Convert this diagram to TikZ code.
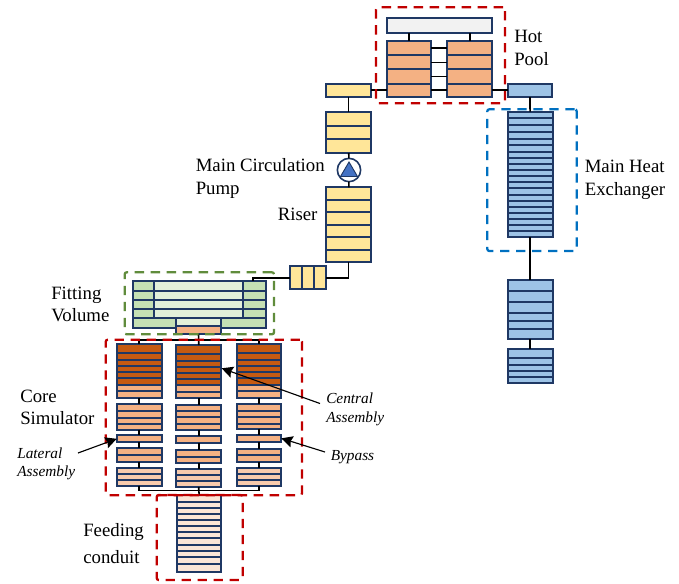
\documentclass[tikz,border=0pt]{standalone}
\usepackage{fontspec}
\setmainfont{Liberation Serif}
\usetikzlibrary{arrows.meta}
\definecolor{navy}{HTML}{1F3864}
\definecolor{hotor}{HTML}{F4B183}
\definecolor{darkor}{HTML}{C55A11}
\definecolor{midor}{HTML}{F8CBAD}
\definecolor{palor}{HTML}{FBE5D6}
\definecolor{yel}{HTML}{FFE699}
\definecolor{blu}{HTML}{9DC3E6}
\definecolor{grn}{HTML}{C5E0B4}
\definecolor{lgrn}{HTML}{E2F0D9}
\definecolor{gry}{HTML}{F2F2F2}
\definecolor{pumpb}{HTML}{4472C4}
\definecolor{redd}{HTML}{C00000}
\definecolor{blued}{HTML}{0070C0}
\definecolor{greend}{HTML}{608C3C}
\tikzset{
  stackbox/.style={draw=navy,line width=1.4pt,inner sep=0pt,outer sep=0pt,rectangle},
  divline/.style={draw=navy,line width=1.4pt},
  conn/.style={draw=black,line width=1.2pt},
  ptr/.style={draw=black,line width=0.85pt,-{Stealth[length=8.5pt,width=8.5pt,inset=1.2pt]}},
  dashbox/.style={rectangle,inner sep=0pt,outer sep=0pt,line width=1.7pt,rounded corners=1.5pt,dash pattern=on 7pt off 5pt},
  lab/.style={anchor=base west,inner sep=0pt,font=\fontsize{14.1}{16}\selectfont},
  ilab/.style={anchor=base west,inner sep=0pt,font=\fontsize{11.5}{13}\selectfont\itshape},
}
% name, x0, y0, x1, y1, fill
\newcommand{\stk}[6]{\node[stackbox,fill=#6,minimum width={(#4-#2)*0.75pt},minimum height={(#5-#3)*0.75pt}] (#1) at ({(#2+#4)/2},{(#3+#5)/2}) {};}
\newcommand{\dv}[2]{\foreach \yy in {#2} {\draw[divline] (#1.west |- 0,\yy) -- (#1.east |- 0,\yy);}}
\newcommand{\hot}[3]{\fill[darkor] (#1.north west) rectangle (#1.east |- 0,#2); \dv{#1}{#3} \draw[divline] (#1.north west) rectangle (#1.south east);}
\begin{document}
\begin{tikzpicture}[x=0.75pt,y=-0.75pt]
\useasboundingbox (0,0) rectangle (679,583);
% hot pool
\stk{top}{387}{18}{492}{33.3}{gry}
\stk{hl}{387}{40.7}{431.3}{97.3}{hotor} \dv{hl}{55,69,83.7}
\stk{hr}{447.3}{40.7}{492}{97.3}{hotor} \dv{hr}{55,69,83.7}
\stk{yt}{326}{83.7}{371}{97}{yel}
\stk{bt}{507.7}{83.7}{552.3}{97}{blu}
\draw[conn] (top.south -| 409,0) -- (hl.north -| 409,0);
\draw[conn] (top.south -| 469.7,0) -- (hr.north -| 469.7,0);
\foreach \yy in {48,62.3,76.3,90} {\draw[conn] (hl.east |- 0,\yy) -- (hr.west |- 0,\yy);}
\draw[conn] (yt.east |- 0,90) -- (hl.west |- 0,90);
\draw[conn] (hr.east |- 0,90) -- (bt.west |- 0,90);
% loop
\stk{ys}{326}{112}{371}{153}{yel} \dv{ys}{125.7,139.3}
\node[circle,draw=navy,fill=white,line width=1.2pt,inner sep=0pt,outer sep=0pt,minimum size=17.5pt] (pump) at (349,170) {};
\draw[navy,fill=pumpb,line width=0.7pt] (349,162) -- (357.5,176.5) -- (340.5,176.5) -- cycle;
\stk{riser}{326}{187.3}{371}{262}{yel} \dv{riser}{200,212.3,224.7,237,249.7}
\draw[conn] (yt) -- (ys);
\draw[conn] (ys) -- (pump);
\draw[conn] (pump) -- (riser);
\node[stackbox,fill=yel,minimum width=27.2pt,minimum height=17pt] (hb) at (308.2,277.7) {};
\draw[divline] (302.3,266.3) -- (302.3,289);
\draw[divline] (314.3,266.3) -- (314.3,289);
\draw[conn] (riser.south) |- (hb.east);
% blue
\stk{bm}{507.7}{111.7}{552.7}{237}{blu}
\dv{bm}{118.3,125.3,131.7,138.7,145,152,158,164,170.3,176.3,182.3,188.3,194.7,200.7,206.7,213,219.3,225,231}
\stk{bn}{507.7}{280}{552.7}{338.7}{blu} \dv{bn}{291,302,313,320.7,329.3}
\stk{bo}{507.7}{349.3}{552.7}{382.7}{blu} \dv{bo}{358.3,364.7,371,376.7}
\draw[conn] (bt) -- (bm);
\draw[conn] (bm) -- (bn);
\draw[conn] (bn) -- (bo);
% fitting volume
\stk{fv}{133}{281.3}{266}{327.7}{grn} \dv{fv}{290.7,300,309,318.3}
\stk{fi}{154}{281.3}{242.7}{318.3}{lgrn} \dv{fi}{290.7,300,309}
\stk{fm}{176.3}{318.3}{220.7}{326.3}{lgrn}
\stk{fo}{176.3}{326.3}{220.7}{334}{hotor}
\coordinate (fvin) at (252.7,281.3);
\coordinate (fvel) at (252.7,277.7);
\draw[conn] (hb.west) -- (fvel) -- (fvin);
% core
\stk{a1}{116.7}{344.3}{161.7}{397.7}{hotor} \hot{a1}{385}{353.3,360,366,372,378.3,385,391.3}
\stk{b1}{176.3}{345}{221.3}{398.3}{hotor} \hot{b1}{385.3}{354,361,367,372.7,378.7,385.3,392}
\stk{c1}{236.7}{344.3}{281.3}{397.7}{hotor} \hot{c1}{385}{353.3,360,366,372,378.3,385,391.3}
\stk{a2}{116.7}{404.3}{161.7}{429.7}{hotor} \dv{a2}{411.3,418,424.3}
\stk{b2}{176.3}{404.7}{221.3}{429.7}{hotor} \dv{b2}{411,417.3,423.7}
\stk{c2}{236.7}{404}{281.3}{428.7}{hotor} \dv{c2}{411,417.3,424}
\stk{a3}{116.7}{435.3}{161.7}{442.3}{hotor}
\stk{b3}{176.3}{435.7}{221.3}{443}{hotor}
\stk{c3}{236.7}{434.7}{281.3}{442}{hotor}
\stk{a4}{116.7}{448.3}{161.7}{461.7}{hotor} \dv{a4}{455}
\stk{b4}{176.3}{450.3}{221.3}{463.3}{hotor} \dv{b4}{456.7}
\stk{c4}{236.7}{449}{281.3}{462}{hotor} \dv{c4}{455.3}
\stk{a5}{116.7}{467.7}{161.7}{485.7}{midor} \dv{a5}{473.7,479.7}
\stk{b5}{176.3}{469}{221.3}{487}{midor} \dv{b5}{475,481}
\stk{c5}{236.7}{467.7}{281.3}{485.7}{midor} \dv{c5}{473.7,479.7}
\foreach \pp/\qq in {a1/a2,a2/a3,a3/a4,a4/a5,b1/b2,b2/b3,b3/b4,b4/b5,c1/c2,c2/c3,c3/c4,c4/c5} {\draw[conn] (\pp) -- (\qq);}
\coordinate (tbus) at (198.7,339.7);
\coordinate (bbus) at (198.7,490.3);
\draw[conn] (fo.south) -- (b1.north);
\draw[conn] (a1.north) |- (tbus) -| (c1.north);
\draw[conn] (a5.south) |- (bbus) -| (c5.south);
\draw[conn] (b5.south) -- (bbus);
% feeding
\stk{fd}{177.3}{495}{221.3}{571.7}{palor} \dv{fd}{501.7,507.7,514,519.7,525.7,532,538.3,544.7,551,557.3,564.3}
\draw[conn] (bbus) -- (fd.north);
% dashed boxes
\node[dashbox,draw=greend,minimum width=112pt,minimum height=46.5pt] (gbox) at (199.35,303.3) {};
\node[dashbox,draw=redd,minimum width=147.2pt,minimum height=116.7pt] (rcore) at (203.85,417.5) {};
\node[dashbox,draw=redd,minimum width=64.5pt,minimum height=63.75pt] (rfeed) at (199.7,537.5) {};
\node[dashbox,draw=redd,minimum width=96.75pt,minimum height=72pt] (rhot) at (440.5,55.3) {};
\node[dashbox,draw=blued,minimum width=67pt,minimum height=106.3pt] (bbox) at (532,180.15) {};
% labels
\node[lab] (t1) at (514,42.5) {Hot};
\node[lab] (t2) at (514,65) {Pool};
\node[lab] (t3) at (195.5,171) {Main Circulation};
\node[lab] (t4) at (195.5,194) {Pump};
\node[lab] (t5) at (277.5,220.5) {Riser};
\node[lab] (t6) at (584.5,172) {Main Heat};
\node[lab] (t7) at (584.5,195) {Exchanger};
\node[lab] (t8) at (51,299.5) {Fitting};
\node[lab] (t9) at (51,321.5) {Volume};
\node[lab] (t10) at (20,402.5) {Core};
\node[lab] (t11) at (20,424) {Simulator};
\node[lab] (t12) at (83,536) {Feeding};
\node[lab] (t13) at (83,563) {conduit};
\node[ilab] (t14) at (326,403) {Central};
\node[ilab] (t15) at (326,422) {Assembly};
\node[ilab] (t16) at (330.5,460) {Bypass};
\node[ilab] (t17) at (17,458) {Lateral};
\node[ilab] (t18) at (17,476) {Assembly};
% pointers
\coordinate (ptc) at (320,403.5);
\coordinate (ctip) at (221.7,368.3);
\coordinate (ptb) at (325,452);
\coordinate (ptl) at (78,453);
\draw[ptr] (ptc) -- (ctip);
\draw[ptr] (ptb) -- (c3.east);
\draw[ptr] (ptl) -- (a3.west);
\end{tikzpicture}
\end{document}
